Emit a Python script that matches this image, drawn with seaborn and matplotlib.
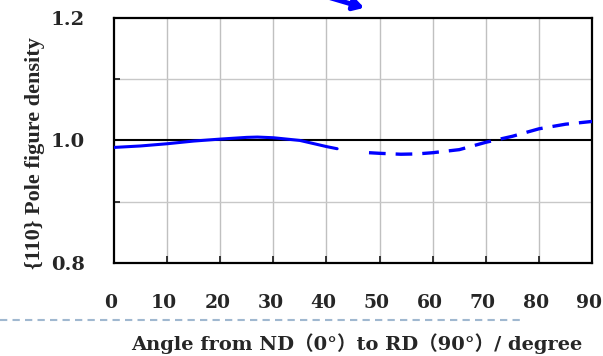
import numpy as np
import pandas as pd
import matplotlib
matplotlib.use("Agg")
import matplotlib.pyplot as plt
import matplotlib.transforms as mtransforms
import seaborn as sns

# solid segment (measured)
angle_solid = [0, 5, 10, 15, 20, 25, 27, 30, 35, 40, 42]
dens_solid = [0.9886, 0.991, 0.9946, 0.999, 1.0022, 1.005, 1.0055, 1.0044, 1.0, 0.990, 0.9865]

# dashed segment (calculated)
angle_dash = [48, 50, 54, 57, 60, 65, 70, 75, 80, 85, 90]
dens_dash = [0.980, 0.979, 0.9775, 0.978, 0.980, 0.985, 0.997, 1.0068, 1.019, 1.0265, 1.031]

x_ticks = [0, 10, 20, 30, 40, 50, 60, 70, 80, 90]
y_ticks = [0.8, 1.0, 1.2]
y_minor = [0.9, 1.1]

sns.set_style("white")
plt.rcParams["font.family"] = ["DejaVu Serif", "Noto Sans CJK JP"]
plt.rcParams["font.weight"] = "bold"

fig = plt.figure(figsize=(6.03, 3.56), dpi=100)
ax = fig.add_axes([0.189, 0.261, 0.793, 0.689])

df_solid = pd.DataFrame({"angle": angle_solid, "density": dens_solid})
df_dash = pd.DataFrame({"angle": angle_dash, "density": dens_dash})

# grid lines
for xv in x_ticks[1:-1]:
    ax.axvline(xv, color="#c0c0c0", lw=1, zorder=0)
for yv in y_minor:
    ax.axhline(yv, color="#c8c8c8", lw=1, zorder=0)
ax.axhline(1.0, color="black", lw=1.5, zorder=1)

sns.lineplot(data=df_solid, x="angle", y="density", ax=ax, color="#0000ff", lw=2.2, zorder=3)
sns.lineplot(data=df_dash, x="angle", y="density", ax=ax, color="#0000ff", lw=2.4, zorder=3)
ax.lines[-1].set_dashes([5, 3])

ax.set_xlim(0, 90)
ax.set_ylim(0.8, 1.2)
ax.set_xticks(x_ticks)
ax.set_yticks(y_ticks)
ax.set_yticks(y_minor, minor=True)
ax.set_xticklabels([str(v) for v in x_ticks], fontsize=13.5, fontweight="bold")
ax.set_yticklabels(["0.8", "1.0", "1.2"], fontsize=14, fontweight="bold")
ax.tick_params(axis="x", direction="in", length=5, width=1.3, pad=22, bottom=True)
ax.tick_params(axis="y", which="major", length=0, pad=21)
ax.tick_params(axis="y", which="minor", direction="in", length=4, width=1.3, left=True)

# nudge x tick labels a little left so "90" stays inside the figure
shift = mtransforms.ScaledTranslation(-3 / 100, 0, fig.dpi_scale_trans)
for lab in ax.get_xticklabels():
    lab.set_transform(lab.get_transform() + shift)

for s in ax.spines.values():
    s.set_color("black")
    s.set_linewidth(1.6)

ax.set_xlabel("")
ax.set_ylabel("{110} Pole figure density", fontsize=16, fontweight="bold",
              family=["Liberation Serif", "DejaVu Serif"])
ax.yaxis.set_label_coords(-0.145, 0.45)

fig.text(0.592, 0.035, "Angle from ND（0°）to RD（90°）/ degree", ha="center", va="center",
         fontsize=14, fontweight="bold")

# dashed separator under the plot
fig.add_artist(plt.Line2D([0.0, 0.87], [0.101, 0.101], transform=fig.transFigure,
                          color="#a0b8d0", lw=1.5, dashes=[3.5, 2.5]))

# clipped arrow at the top
ax.annotate("", xy=(0.604, 0.978), xytext=(0.548, 1.006), xycoords="figure fraction",
            textcoords="figure fraction", annotation_clip=False,
            arrowprops=dict(arrowstyle="-|>,head_length=0.6,head_width=0.35",
                            color="#0000ff", lw=3.5, shrinkA=0, shrinkB=0))

fig.savefig("out.png", dpi=100)
